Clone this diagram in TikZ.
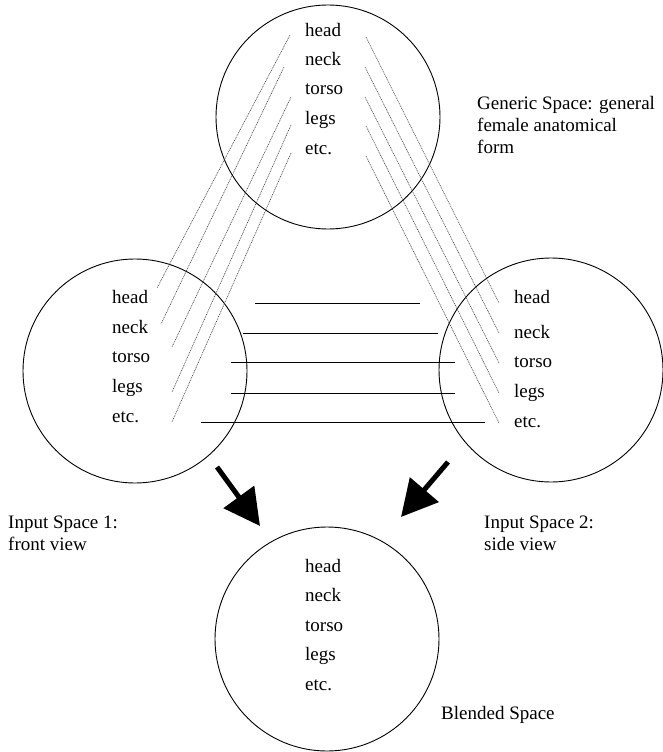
\documentclass[tikz,border=0pt]{standalone}
\usepackage{fontspec}
\setmainfont{Liberation Serif}
\usetikzlibrary{arrows.meta}
\begin{document}
\begin{tikzpicture}[x=1pt,y=-1pt,
  space/.style={circle,draw,line width=0.9pt,minimum size=224pt,inner sep=0pt},
  lbl/.style={anchor=base west,inner sep=0pt,font=\fontsize{19}{22}\selectfont},
  captxt/.style={anchor=base west,inner sep=0pt,align=left,font=\fontsize{19}{22}\selectfont},
  mapline/.style={line width=0.6pt,black!75,dash pattern=on 1pt off 0.8pt},
  cpline/.style={line width=0.9pt},
  bigarrow/.style={line width=5pt,-{Triangle[length=36pt,width=37pt]}}]
\useasboundingbox (0,0) rectangle (663,752);
% circles
\node[space] (G) at (328,117) {};
\node[space] (I1) at (135,371) {};
\node[space] (I2) at (551,370) {};
\node[space] (B) at (327,639) {};
% labels
\node[lbl] (gh) at (305,37) {head};
\node[lbl] (gn) at (305,66) {neck};
\node[lbl] (gt) at (305,95) {torso};
\node[lbl] (gl) at (305,124) {legs};
\node[lbl] (ge) at (305,154) {etc.};
\node[lbl] (ah) at (112,303) {head};
\node[lbl] (an) at (112,333) {neck};
\node[lbl] (atr) at (112,362) {torso};
\node[lbl] (al) at (112,392) {legs};
\node[lbl] (ae) at (112,422) {etc.};
\node[lbl] (bh) at (514,303) {head};
\node[lbl] (bn) at (514,338) {neck};
\node[lbl] (bt) at (514,367) {torso};
\node[lbl] (bl) at (514,397) {legs};
\node[lbl] (be) at (514,427) {etc.};
\node[lbl] (ch) at (305,572) {head};
\node[lbl] (cn) at (305,601) {neck};
\node[lbl] (ct) at (305,631) {torso};
\node[lbl] (cl) at (305,660) {legs};
\node[lbl] (ce) at (305,690) {etc.};
% captions (base anchor = last line's baseline)
\node[captxt] (gcap) at (477,153) {Generic Space: general\\female anatomical\\form};
\node[captxt] (i1cap) at (8,550) {Input Space 1:\\front view};
\node[captxt] (i2cap) at (484,550) {Input Space 2:\\side view};
\node[captxt] (bcap) at (441,719) {Blended Space};
% dotted mapping lines generic -> input 1
\coordinate (g1a) at (290,35);  \coordinate (a1) at (157,288);
\coordinate (g2a) at (284,67);  \coordinate (a2) at (161,324);
\coordinate (g3a) at (291,97);  \coordinate (a3) at (172,347);
\coordinate (g4a) at (291,125); \coordinate (a4) at (172,392);
\coordinate (g5a) at (291,153); \coordinate (a5) at (172,422);
\foreach \i in {1,...,5} \draw[mapline] (g\i a) -- (a\i);
% dotted mapping lines generic -> input 2
\coordinate (g1b) at (366,37);  \coordinate (b1) at (499,303);
\coordinate (g2b) at (365,67);  \coordinate (b2) at (499,333);
\coordinate (g3b) at (365,97);  \coordinate (b3) at (499,363);
\coordinate (g4b) at (366,126); \coordinate (b4) at (499,393);
\coordinate (g5b) at (366,156); \coordinate (b5) at (499,423);
\foreach \i in {1,...,5} \draw[mapline] (g\i b) -- (b\i);
% cross-space counterpart lines
\coordinate (h1l) at (255,303); \coordinate (h1r) at (420,303);
\coordinate (h2l) at (243,333); \coordinate (h2r) at (438,333);
\coordinate (h3l) at (231,362); \coordinate (h3r) at (455,362);
\coordinate (h4l) at (231,393); \coordinate (h4r) at (455,393);
\coordinate (h5l) at (201,422); \coordinate (h5r) at (485,422);
\foreach \i in {1,...,5} \draw[cpline] (h\i l) -- (h\i r);
% projection arrows
\coordinate (p1s) at (217,467); \coordinate (p1e) at (260,526);
\coordinate (p2s) at (448,462); \coordinate (p2e) at (401,517);
\draw[bigarrow] (p1s) -- (p1e);
\draw[bigarrow] (p2s) -- (p2e);
\end{tikzpicture}
\end{document}
